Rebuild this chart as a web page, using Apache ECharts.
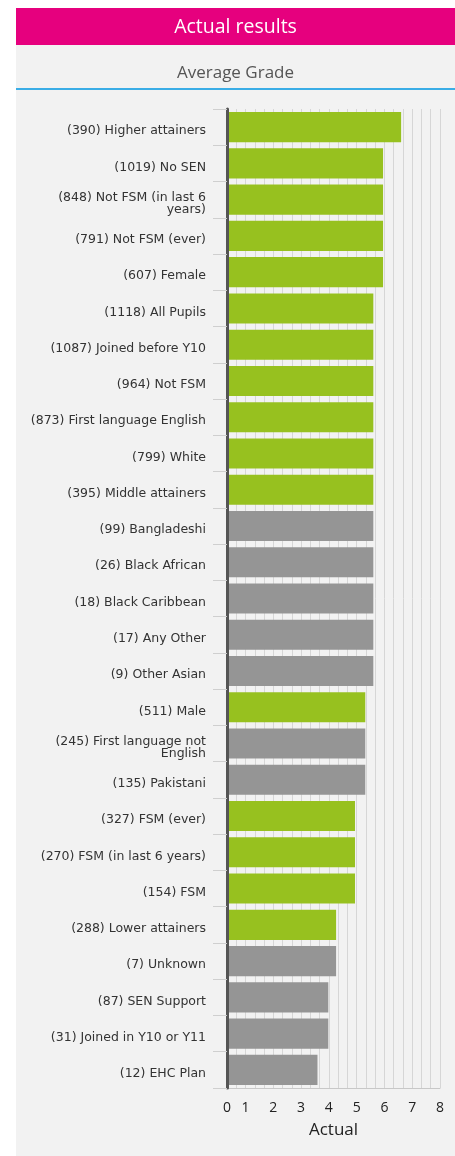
<!DOCTYPE html>
<html><head><meta charset="utf-8">
<script src="https://cdn.jsdelivr.net/npm/echarts@6/dist/echarts.min.js"></script>
<style>html,body{margin:0;padding:0;background:#fff;}#c{width:455px;height:1156px;}</style>
</head><body><div id="c"></div>
<script>
const categories = [
  "(390) Higher attainers", "(1019) No SEN", "(848) Not FSM (in last 6\nyears)", "(791) Not FSM (ever)",
  "(607) Female", "(1118) All Pupils", "(1087) Joined before Y10", "(964) Not FSM",
  "(873) First language English", "(799) White", "(395) Middle attainers", "(99) Bangladeshi",
  "(26) Black African", "(18) Black Caribbean", "(17) Any Other", "(9) Other Asian",
  "(511) Male", "(245) First language not\nEnglish", "(135) Pakistani", "(327) FSM (ever)",
  "(270) FSM (in last 6 years)", "(154) FSM", "(288) Lower attainers", "(7) Unknown",
  "(87) SEN Support", "(31) Joined in Y10 or Y11", "(12) EHC Plan"
];
const values = [
  6.60, 5.95, 5.95, 5.95,
  5.95, 5.60, 5.60, 5.60,
  5.60, 5.60, 5.60, 5.60,
  5.60, 5.60, 5.60, 5.60,
  5.31, 5.31, 5.31, 4.94,
  4.94, 4.94, 4.26, 4.26,
  3.98, 3.98, 3.59
];
// 1 = highlighted group (green), 0 = other group (grey)
const highlighted = [
  1,1,1,1, 1,1,1,1, 1,1,1,0, 0,0,0,0, 1,0,0,1, 1,1,1,0, 0,0,0
];
const xTickLabels = ["0","1","2","3","4","5","6","7","8"];
const title = "Actual results";
const subtitle = "Average Grade";
const xName = "Actual";

const GREEN = "#97c11f", GREY = "#959595";
const FONT = "Open Sans";
const LABEL_FONT = "DejaVu Sans";

const chart = echarts.init(document.getElementById('c'), null, {renderer: 'canvas'});
const step = 1/3;
chart.setOption({
  animation: false,
  backgroundColor: '#ffffff',
  textStyle: {fontFamily: FONT},
  graphic: [
    {type: 'rect', z: -10, shape: {x: 16, y: 45, width: 439, height: 1111}, style: {fill: '#f2f2f2'}, silent: true},
    {type: 'rect', z: -9, shape: {x: 16, y: 8, width: 439, height: 37}, style: {fill: '#e6007e'}, silent: true},
    {type: 'rect', z: -9, shape: {x: 16, y: 88, width: 439, height: 2}, style: {fill: '#3aade6'}, silent: true},
    {type: 'text', z: 10, x: 235.5, y: 27, style: {text: title, fill: '#ffffff', font: '19.5px "Open Sans"', textAlign: 'center', textVerticalAlign: 'middle'}},
    {type: 'text', z: 10, x: 235.5, y: 73, style: {text: subtitle, fill: '#555555', font: '17px "Open Sans"', textAlign: 'center', textVerticalAlign: 'middle'}}
  ],
  grid: {left: 227, right: 15, top: 109, bottom: 68, containLabel: false},
  xAxis: {
    type: 'value', min: step, max: 8, interval: step,
    name: xName, nameLocation: 'middle', nameGap: 34,
    nameTextStyle: {fontSize: 17, color: '#222', fontFamily: FONT},
    axisLine: {show: true, lineStyle: {color: '#c8c8c8', width: 1}},
    axisTick: {show: false},
    splitLine: {show: true, lineStyle: {color: '#d6d6d6', width: 1}},
    axisLabel: {
      interval: 0, margin: 13, fontSize: 14, color: '#222', fontFamily: FONT,
      showMinLabel: true, showMaxLabel: true,
      formatter: function (v, i) {
        if (i === 0) return xTickLabels[0];
        const r = Math.round(v);
        if (Math.abs(v - r) < 0.01 && r >= 1 && r <= 8) return xTickLabels[r];
        return '';
      }
    }
  },
  yAxis: {
    type: 'category', data: categories, inverse: true, z: 5,
    axisLine: {show: true, onZero: false, lineStyle: {color: '#555555', width: 3}},
    axisTick: {show: true, length: 14, lineStyle: {color: '#cfcfcf', width: 1}},
    axisLabel: {
      margin: 21, align: 'right',
      formatter: function (v) {
        return '{s| }\n' + v.split('\n').map(l => '{a|' + l + '}').join('\n');
      },
      rich: {
        s: {fontSize: 1, lineHeight: 8},
        a: {fontSize: 12.5, lineHeight: 12, color: '#333', fontFamily: LABEL_FONT, align: 'right'}
      }
    },
    splitLine: {show: false}
  },
  series: [{
    type: 'bar',
    clip: true,
    barCategoryGap: '17%',
    data: values.map((v, i) => ({value: v, itemStyle: {color: highlighted[i] ? GREEN : GREY}})),
    z: 2
  }]
});
</script></body></html>
